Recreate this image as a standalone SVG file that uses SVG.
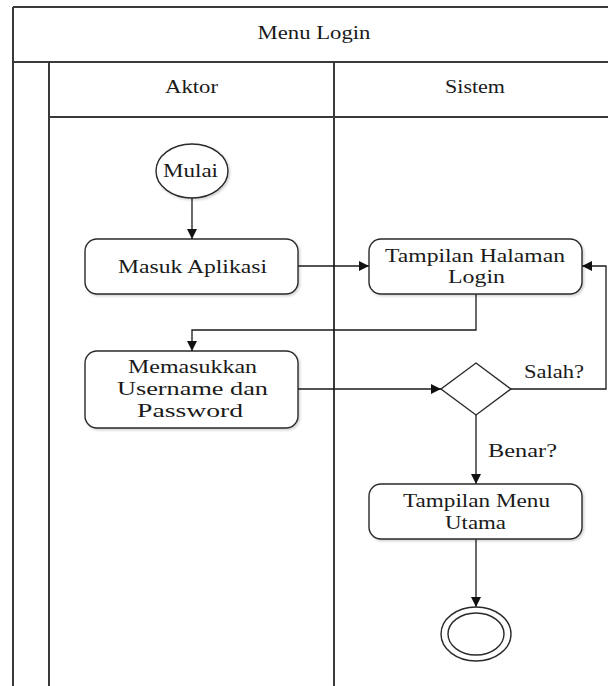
<svg xmlns="http://www.w3.org/2000/svg" width="608" height="686" viewBox="0 0 608 686">
  <style>
    .lane { fill: none; stroke: #3a3a3a; stroke-width: 2; }
    .node { fill: #ffffff; stroke: #2a2a2a; stroke-width: 1.4; }
    .edge { fill: none; stroke: #1a1a1a; stroke-width: 1.3; }
    .lbl { font-family: "Liberation Serif", "Times New Roman", serif; font-size: 18px; fill: #1a1a1a; text-anchor: middle; }
  </style>
  <defs>
    <marker id="arrow" viewBox="0 0 10 10" refX="10" refY="5" markerWidth="10" markerHeight="10" markerUnits="userSpaceOnUse" orient="auto">
      <path d="M0,0 L10,5 L0,10 Z" fill="#111111"/>
    </marker>
    <filter id="shadow" x="-10%" y="-10%" width="125%" height="130%">
      <feDropShadow dx="1.5" dy="1.5" stdDeviation="1" flood-color="#000000" flood-opacity="0.18"/>
    </filter>
  </defs>
  <rect width="608" height="686" fill="#ffffff"/>

  <!-- swimlane frame -->
  <g id="swimlane">
    <path class="lane" d="M13,7 H608 M13,62 H608 M49,117 H608 M13,7 V686 M49,62 V686 M334,62 V686"/>
    <text class="lbl" x="314" y="39" textLength="113" lengthAdjust="spacingAndGlyphs">Menu Login</text>
    <text class="lbl" x="191.5" y="93" textLength="53" lengthAdjust="spacingAndGlyphs">Aktor</text>
    <text class="lbl" x="475" y="93" textLength="60" lengthAdjust="spacingAndGlyphs">Sistem</text>
  </g>

  <!-- connectors -->
  <g id="connectors">
    <path class="edge" d="M192,198 V239" marker-end="url(#arrow)"/>
    <path class="edge" d="M298,266 H369" marker-end="url(#arrow)"/>
    <path class="edge" d="M476,294 V330 H192 V351" marker-end="url(#arrow)"/>
    <path class="edge" d="M298,389 H441" marker-end="url(#arrow)"/>
    <path class="edge" d="M511,389 H606 V266 H582" marker-end="url(#arrow)"/>
    <path class="edge" d="M476,415 V484" marker-end="url(#arrow)"/>
    <path class="edge" d="M476,539 V607" marker-end="url(#arrow)"/>
    <text class="lbl" x="554" y="378" textLength="60" lengthAdjust="spacingAndGlyphs">Salah?</text>
    <text class="lbl" x="522.5" y="457" textLength="69" lengthAdjust="spacingAndGlyphs">Benar?</text>
  </g>

  <g id="start">
    <ellipse class="node" cx="192" cy="171" rx="36" ry="27" filter="url(#shadow)"/>
    <text class="lbl" x="190.5" y="177" textLength="55" lengthAdjust="spacingAndGlyphs">Mulai</text>
  </g>

  <g id="masuk-aplikasi">
    <rect class="node" x="85" y="239" width="213" height="55" rx="12" filter="url(#shadow)"/>
    <text class="lbl" x="192.5" y="273" textLength="149" lengthAdjust="spacingAndGlyphs">Masuk Aplikasi</text>
  </g>

  <g id="tampilan-login">
    <rect class="node" x="369" y="239" width="213" height="55" rx="12" filter="url(#shadow)"/>
    <text class="lbl" x="475" y="262" textLength="180" lengthAdjust="spacingAndGlyphs">Tampilan Halaman</text>
    <text class="lbl" x="476.5" y="283" textLength="57" lengthAdjust="spacingAndGlyphs">Login</text>
  </g>

  <g id="input-user">
    <rect class="node" x="85" y="351" width="213" height="77" rx="12" filter="url(#shadow)"/>
    <text class="lbl" x="192.5" y="373" textLength="129" lengthAdjust="spacingAndGlyphs">Memasukkan</text>
    <text class="lbl" x="192.5" y="395" textLength="151" lengthAdjust="spacingAndGlyphs">Username dan</text>
    <text class="lbl" x="190" y="417" textLength="106" lengthAdjust="spacingAndGlyphs">Password</text>
  </g>

  <g id="decision">
    <path class="node" d="M476,363 L511,389 L476,415 L441,389 Z"/>
  </g>

  <g id="menu-utama">
    <rect class="node" x="369" y="484" width="213" height="55" rx="12" filter="url(#shadow)"/>
    <text class="lbl" x="476.5" y="507" textLength="147" lengthAdjust="spacingAndGlyphs">Tampilan Menu</text>
    <text class="lbl" x="475.5" y="529" textLength="61" lengthAdjust="spacingAndGlyphs">Utama</text>
  </g>

  <g id="end">
    <ellipse class="node" cx="476" cy="634" rx="35" ry="27"/>
    <ellipse class="node" cx="476" cy="634" rx="28" ry="21"/>
  </g>
</svg>
